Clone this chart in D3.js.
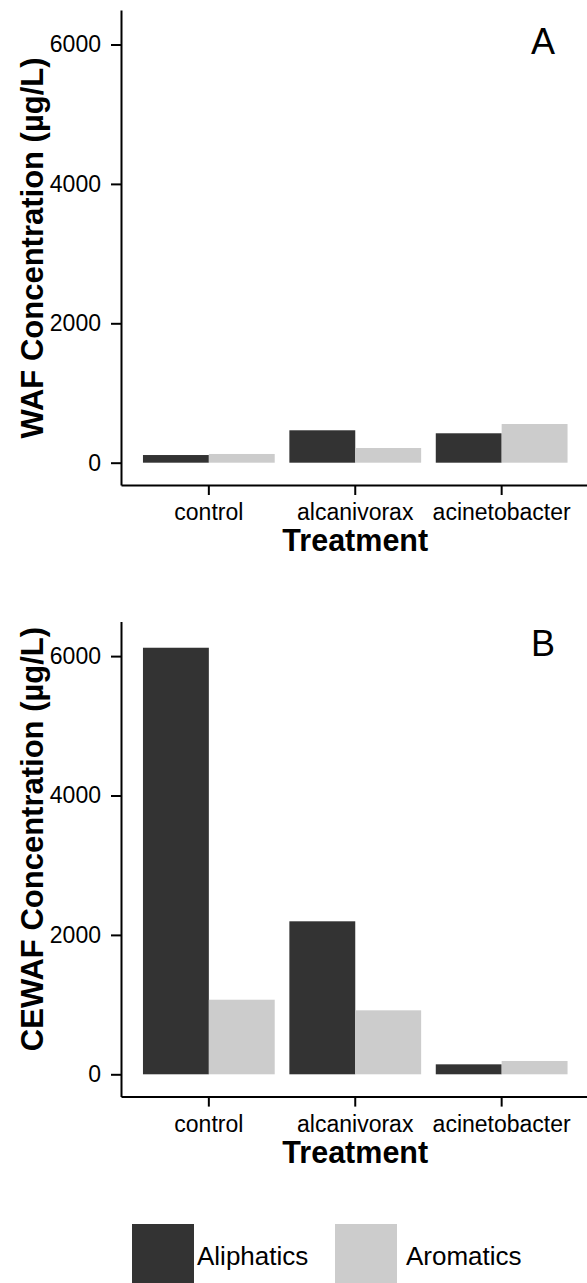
<!DOCTYPE html>
<html>
<head>
<meta charset="utf-8">
<script src="https://cdn.jsdelivr.net/npm/d3@7"></script>
<style>
  body { margin: 0; background: #fff; }
  svg { display: block; font-family: "Liberation Sans", Arial, sans-serif; }
</style>
</head>
<body>
<svg id="chart"></svg>
<script>
const categories = ['control', 'alcanivorax', 'acinetobacter'];
const seriesNames = ['Aliphatics', 'Aromatics'];
const wafAliphatics = [110, 465, 422];
const wafAromatics = [125, 211, 555];
const cewafAliphatics = [6120, 2195, 143];
const cewafAromatics = [1070, 918, 191];
const yTicks = [0, 2000, 4000, 6000];

const svgWidth = 587;
const svgHeight = 1283;
const colors = { Aliphatics: '#333333', Aromatics: '#cccccc' };

const svg = d3.select('#chart')
  .attr('width', svgWidth)
  .attr('height', svgHeight);

const plotLeft = 121;
const plotRight = 589.5;

const xScale = d3.scaleBand()
  .domain(categories)
  .range([plotLeft, plotRight])
  .paddingInner(0.1)
  .paddingOuter(0.15);

const xInner = d3.scaleBand()
  .domain(seriesNames)
  .range([0, xScale.bandwidth()]);

function drawPanel(panel) {
  const yScale = d3.scaleLinear()
    .domain([-320, 6495])
    .range([panel.bottom, panel.top]);

  const rows = categories.map((c, i) => ({
    category: c,
    values: [
      { key: 'Aliphatics', value: panel.aliphatics[i] },
      { key: 'Aromatics', value: panel.aromatics[i] }
    ]
  }));

  const g = svg.append('g');

  g.selectAll('.group')
    .data(rows)
    .enter().append('g')
    .attr('transform', d => `translate(${xScale(d.category)},0)`)
    .selectAll('rect')
    .data(d => d.values)
    .enter().append('rect')
    .attr('x', d => xInner(d.key))
    .attr('y', d => yScale(d.value))
    .attr('width', xInner.bandwidth())
    .attr('height', d => yScale(0) - yScale(d.value))
    .attr('fill', d => colors[d.key]);

  const yAxis = d3.axisLeft(yScale)
    .tickValues(yTicks)
    .tickFormat(d3.format('d'))
    .tickSize(10)
    .tickSizeOuter(0)
    .tickPadding(10);

  const xAxis = d3.axisBottom(xScale)
    .tickSize(10)
    .tickSizeOuter(0)
    .tickPadding(9);

  const ya = g.append('g')
    .attr('transform', `translate(${plotLeft},0)`)
    .call(yAxis);

  const xa = g.append('g')
    .attr('transform', `translate(0,${panel.bottom})`)
    .call(xAxis);

  [ya, xa].forEach(a => {
    a.select('.domain').attr('stroke', '#000').attr('stroke-width', 2);
    a.selectAll('.tick line').attr('stroke', '#000').attr('stroke-width', 2);
    a.selectAll('.tick text')
      .attr('fill', '#000')
      .style('font-size', '23px')
      .style('font-family', '"Liberation Sans", Arial, sans-serif');
  });

  g.append('text')
    .attr('transform', `translate(43,${panel.titleY}) rotate(-90)`)
    .attr('text-anchor', 'middle')
    .style('font-size', '31px')
    .style('font-weight', 'bold')
    .text(panel.title);

  g.append('text')
    .attr('x', (plotLeft + plotRight) / 2)
    .attr('y', panel.bottom + 66)
    .attr('text-anchor', 'middle')
    .style('font-size', '30.5px')
    .style('font-weight', 'bold')
    .text('Treatment');

  g.append('text')
    .attr('x', 543)
    .attr('y', panel.letterY)
    .attr('text-anchor', 'middle')
    .style('font-size', '36px')
    .text(panel.letter);
}

drawPanel({
  top: 10, bottom: 485,
  aliphatics: wafAliphatics, aromatics: wafAromatics,
  title: 'WAF Concentration (µg/L)', titleY: 248,
  letter: 'A', letterY: 54
});

drawPanel({
  top: 621.6, bottom: 1096.6,
  aliphatics: cewafAliphatics, aromatics: cewafAromatics,
  title: 'CEWAF Concentration (µg/L)', titleY: 839,
  letter: 'B', letterY: 656
});

// legend
const legend = svg.append('g');
const legendX = [132, 335];
seriesNames.forEach((s, i) => {
  legend.append('rect')
    .attr('x', legendX[i])
    .attr('y', 1224)
    .attr('width', 62)
    .attr('height', 62)
    .attr('fill', colors[s]);
  legend.append('text')
    .attr('x', legendX[i] + (i === 0 ? 65 : 71))
    .attr('y', 1265)
    .style('font-size', '26px')
    .text(s);
});
</script>
</body>
</html>
